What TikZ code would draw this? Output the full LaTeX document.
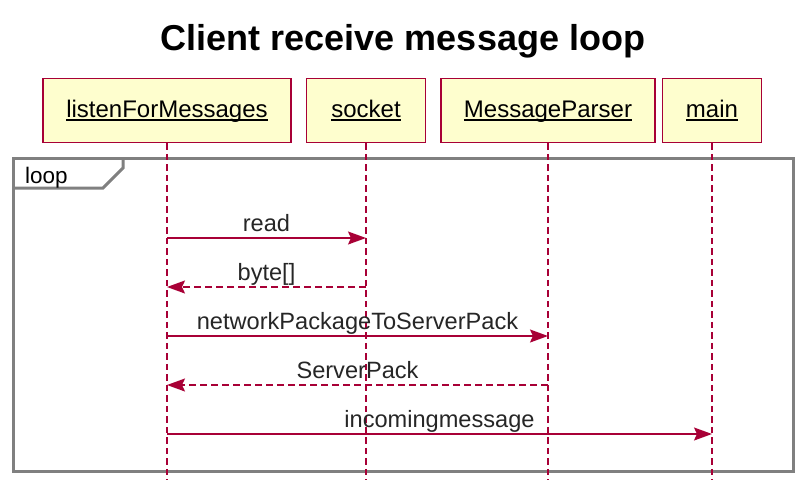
\documentclass[tikz,border=0pt]{standalone}
\usepackage{fontspec}
\setmainfont{Liberation Sans}
\usetikzlibrary{arrows.meta}
\definecolor{plum}{HTML}{A80036}
\definecolor{boxfill}{HTML}{FEFECE}
\definecolor{framegray}{HTML}{808080}
\newcommand{\pul}[1]{\setbox0\hbox{#1}\rlap{\rule[-3.7pt]{\wd0}{1.4pt}}\box0}
\tikzset{
  partbox/.style={draw=plum, fill=boxfill, line width=1.5pt, minimum height=64pt,
    inner sep=0pt, text height=18pt, text depth=5pt,
    font=\fontsize{24}{28}\selectfont},
  lifeline/.style={draw=plum, line width=1.6pt, dash pattern=on 6.5pt off 4pt},
  msg/.style={draw=plum, line width=1.5pt, -{Stealth[length=18pt,width=13pt,inset=3pt]}},
  retmsg/.style={msg, dash pattern=on 7pt off 4pt},
  msglabel/.style={midway, anchor=base, yshift=6.5pt, inner sep=0pt,
    font=\fontsize{23.6}{27}\selectfont, text=black!85},
  framebox/.style={draw=framegray, line width=3pt},
}
\begin{document}
\begin{tikzpicture}[x=1pt, y=-1pt]
\useasboundingbox (0,0) rectangle (806,480);
\node[anchor=base, inner sep=0pt, font=\fontsize{36}{40}\selectfont\bfseries] (title) at (403,50.5) {Client receive message loop};

% loop frame
\draw[framebox] (13,158) rectangle (793,471);
\draw[framebox] (13,188) -- (103,188) -- (123,168) -- (123,158);
\node[anchor=base west, inner sep=0pt, font=\fontsize{22.5}{26}\selectfont] (looplbl) at (25,183) {loop};

% participants
\node[partbox, minimum width=248pt] (listen) at (167,110.5) {\pul{listenForMessages}};
\node[partbox, minimum width=119pt] (socket) at (366,110.5) {\pul{socket}};
\node[partbox, minimum width=214pt] (parser) at (548,110.5) {\pul{MessageParser}};
\node[partbox, minimum width=99pt] (main) at (712,110.5) {\pul{main}};

% lifelines
\coordinate (bot) at (0,480);
\foreach \p in {listen,socket,parser,main}{
  \draw[lifeline] (\p.south) -- (\p |- bot);
}

% messages
\coordinate (y1) at (0,238);
\coordinate (y2) at (0,287);
\coordinate (y3) at (0,336);
\coordinate (y4) at (0,385);
\coordinate (y5) at (0,434);
\draw[msg] (listen |- y1) -- node[msglabel] {read} (socket |- y1);
\draw[retmsg] (socket |- y2) -- node[msglabel] {byte[]} (listen |- y2);
\draw[msg] (listen |- y3) -- node[msglabel] {networkPackageToServerPack} (parser |- y3);
\draw[retmsg] (parser |- y4) -- node[msglabel] {ServerPack} (listen |- y4);
\draw[msg] (listen |- y5) -- node[msglabel] {incomingmessage} (main |- y5);
\end{tikzpicture}
\end{document}
